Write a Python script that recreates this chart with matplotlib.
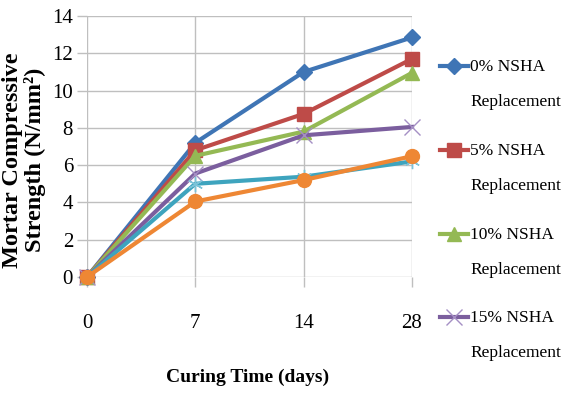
import matplotlib
matplotlib.use("Agg")
import matplotlib.pyplot as plt
from matplotlib.lines import Line2D

plt.rcParams['font.family'] = ['Liberation Serif', 'DejaVu Serif']

# curing ages (days) and strength results (N/mm^2)
days = ["0", "7", "14", "28"]
nsha_0 = [0, 7.2, 11.0, 12.85]
nsha_5 = [0, 6.8, 8.75, 11.7]
nsha_10 = [0, 6.5, 7.8, 10.95]
nsha_15 = [0, 5.55, 7.6, 8.05]
nsha_20 = [0, 5.0, 5.38, 6.2]
nsha_25 = [0, 4.05, 5.2, 6.48]

labels = ["0% NSHA\nReplacement", "5% NSHA\nReplacement",
          "10% NSHA\nReplacement", "15% NSHA\nReplacement"]

series = [
    (nsha_0, "#3F75B5", dict(marker="D", ms=8)),
    (nsha_5, "#BE4B48", dict(marker="s", ms=10)),
    (nsha_10, "#94B954", dict(marker="^", ms=10)),
    (nsha_15, "#7B5E9E", dict(marker="x", ms=11, mew=1.0, mec="#A58FC4")),
    (nsha_20, "#3EA4BE", dict(marker=(6, 2, 0), ms=11, mew=1.0, mec="#7CC3D8")),
    (nsha_25, "#EE8734", dict(marker="o", ms=10)),
]

fig = plt.figure(figsize=(5.62, 3.94), dpi=100)
ax = fig.add_axes([87 / 562, 1 - 277 / 394, (412 - 87) / 562, (277 - 16) / 394])

x = list(range(len(days)))
lines = []
for vals, color, style in series:
    kw = dict(color=color, lw=3.0, mfc=color, clip_on=False, zorder=3)
    if "mec" not in style:
        kw["mec"] = color
    kw.update(style)
    ln, = ax.plot(x, vals, **kw)
    lines.append(ln)

ax.set_xlim(0, 3)
ax.set_ylim(0, 14)
ax.set_yticks(range(0, 15, 2))
ax.set_xticks(x)
ax.set_xticklabels(days)
ax.grid(True, color="#BFBFBF", lw=1.0)
ax.set_axisbelow(True)
for s in ax.spines.values():
    s.set_visible(False)
ax.tick_params(axis="both", direction="out", length=7, color="#BFBFBF",
               width=1.0, labelsize=15)
ax.tick_params(axis="x", pad=20)
ax.tick_params(axis="y", pad=3)

fig.text(24 / 562, 1 - 160 / 394, "Mortar Compressive\nStrength (N/mm²)",
         rotation=90, ha="center", va="center", fontsize=17.5, fontweight="bold",
         linespacing=1.05)
fig.text(248 / 562, 1 - 377 / 394, "Curing Time (days)", ha="center", va="center",
         fontsize=14, fontweight="bold")

# legend entries drawn in figure space, marker next to the first text line
entry_y = [66, 150, 234, 317]
for ln, lab, ey in zip(lines[:4], labels, entry_y):
    yy = 1 - ey / 394
    h = Line2D([440 / 562, 468 / 562], [yy, yy], transform=fig.transFigure,
               color=ln.get_color(), lw=3.0)
    fig.add_artist(h)
    m = Line2D([454 / 562], [yy], transform=fig.transFigure, ls="none",
               marker=ln.get_marker(), ms=ln.get_markersize(),
               mfc=ln.get_markerfacecolor(), mec=ln.get_markeredgecolor(),
               mew=ln.get_markeredgewidth())
    fig.add_artist(m)
    fig.text(470 / 562, yy + 7 / 394, lab, ha="left", va="top", fontsize=12.5,
             linespacing=2.55)

fig.savefig("out.png", dpi=100)
